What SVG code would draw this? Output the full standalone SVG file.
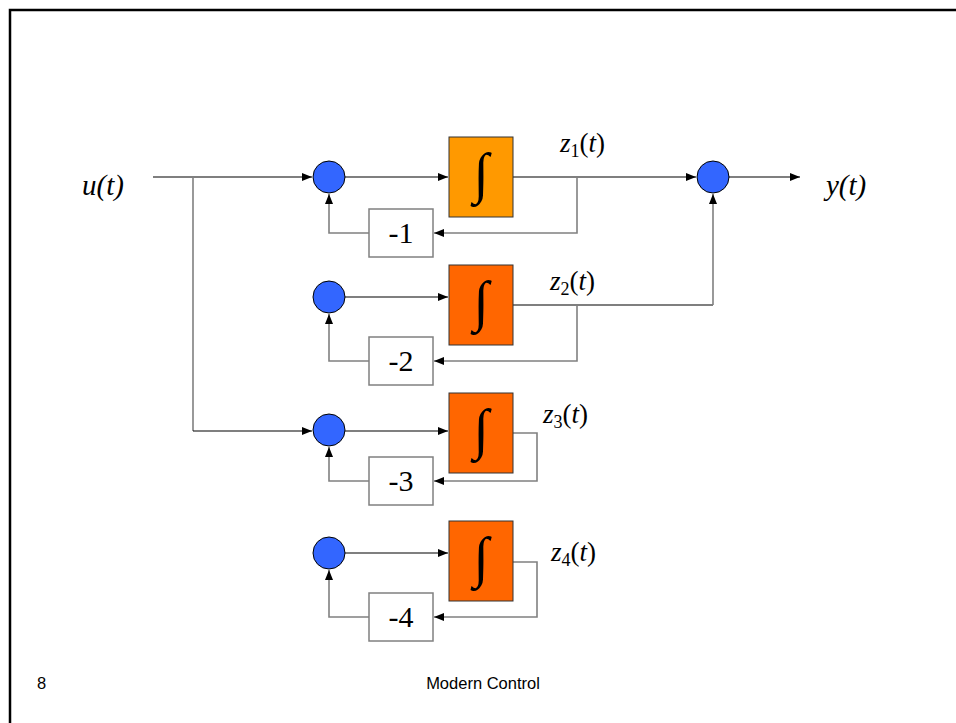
<svg xmlns="http://www.w3.org/2000/svg" width="956" height="723" viewBox="0 0 956 723">
<style>
.sum{fill:#3366FF;stroke:#000;stroke-width:1}
.int1{fill:#FF9900;stroke:#333;stroke-width:1}
.int{fill:#FF6600;stroke:#333;stroke-width:1}
.gain{fill:#fff;stroke:#808080;stroke-width:1.5}
.fw{fill:none;stroke:#000;stroke-width:1.2}
.fb{fill:none;stroke:#808080;stroke-width:1.6}
.serif{font-family:"Liberation Serif","Times New Roman",serif;fill:#000}
.gt{font-family:"Liberation Serif","Times New Roman",serif;font-size:30px;text-anchor:middle;fill:#000}
.ig{font-family:"Liberation Serif","Times New Roman",serif;font-size:56px;text-anchor:middle;fill:#000}
.foot{font-family:"Liberation Sans",Arial,sans-serif;font-size:16.5px;fill:#000}
</style>
<defs>
<marker id="ah" viewBox="0 0 10 8" refX="10" refY="4" markerWidth="10" markerHeight="8" markerUnits="userSpaceOnUse" orient="auto">
<path d="M0,0 L10,4 L0,8 z" fill="#000"/>
</marker>
</defs>
<rect x="0" y="0" width="956" height="723" fill="#fff"/>
<path d="M10,740 V10 H970" fill="none" stroke="#000" stroke-width="2.5"/>

<g id="connectors">
<path class="fw" d="M153,177 H312" marker-end="url(#ah)"/>
<path class="fb" d="M193,177 V431"/>
<path class="fw" d="M193,431 H312" marker-end="url(#ah)"/>
<path class="fw" d="M345,177 H448" marker-end="url(#ah)"/>
<path class="fw" d="M513,177 H696" marker-end="url(#ah)"/>
<path class="fb" d="M577,177 V233 H434" marker-end="url(#ah)"/>
<path class="fb" d="M369,233 H329 V194" marker-end="url(#ah)"/>
<path class="fw" d="M729,177 H800" marker-end="url(#ah)"/>
<path class="fw" d="M345,297 H448" marker-end="url(#ah)"/>
<path class="fw" d="M513,305 H713"/>
<path class="fb" d="M713,305 V194" marker-end="url(#ah)"/>
<path class="fb" d="M577,305 V361 H434" marker-end="url(#ah)"/>
<path class="fb" d="M369,361 H329 V314" marker-end="url(#ah)"/>
<path class="fw" d="M345,431 H448" marker-end="url(#ah)"/>
<path class="fb" d="M513,433 H537 V481 H434" marker-end="url(#ah)"/>
<path class="fb" d="M369,481 H329 V447" marker-end="url(#ah)"/>
<path class="fw" d="M345,553 H448" marker-end="url(#ah)"/>
<path class="fb" d="M513,562 H537 V617 H434" marker-end="url(#ah)"/>
<path class="fb" d="M369,617 H329 V570" marker-end="url(#ah)"/>
</g>

<g id="u">
<text class="serif" x="82" y="195" font-size="29" font-style="italic">u(t)</text>
</g>
<g id="y">
<text class="serif" x="826" y="195" font-size="29" font-style="italic">y(t)</text>
</g>

<g id="sum1"><circle class="sum" cx="329" cy="177" r="16"/></g>
<g id="sum2"><circle class="sum" cx="329" cy="297" r="16"/></g>
<g id="sum3"><circle class="sum" cx="329" cy="430" r="16"/></g>
<g id="sum4"><circle class="sum" cx="329" cy="553" r="16"/></g>
<g id="sumOut"><circle class="sum" cx="713" cy="177" r="16"/></g>

<g id="int1"><rect class="int1" x="449" y="137" width="64" height="80"/><text class="ig" x="481" y="192">∫</text></g>
<g id="int2"><rect class="int" x="449" y="265" width="64" height="80"/><text class="ig" x="481" y="320">∫</text></g>
<g id="int3"><rect class="int" x="449" y="393" width="64" height="80"/><text class="ig" x="481" y="448">∫</text></g>
<g id="int4"><rect class="int" x="449" y="521" width="64" height="80"/><text class="ig" x="481" y="576">∫</text></g>

<g id="gain1"><rect class="gain" x="369" y="209" width="64" height="48"/><text class="gt" x="401" y="243">-1</text></g>
<g id="gain2"><rect class="gain" x="369" y="337" width="64" height="48"/><text class="gt" x="401" y="371">-2</text></g>
<g id="gain3"><rect class="gain" x="369" y="457" width="64" height="48"/><text class="gt" x="401" y="491">-3</text></g>
<g id="gain4"><rect class="gain" x="369" y="593" width="64" height="48"/><text class="gt" x="401" y="627">-4</text></g>

<g id="z1"><text class="serif" x="560" y="152" font-size="27"><tspan font-style="italic">z</tspan><tspan font-size="18" dy="5">1</tspan><tspan dy="-5">(</tspan><tspan font-style="italic">t</tspan><tspan>)</tspan></text></g>
<g id="z2"><text class="serif" x="550" y="290" font-size="27"><tspan font-style="italic">z</tspan><tspan font-size="18" dy="5">2</tspan><tspan dy="-5">(</tspan><tspan font-style="italic">t</tspan><tspan>)</tspan></text></g>
<g id="z3"><text class="serif" x="543" y="423" font-size="27"><tspan font-style="italic">z</tspan><tspan font-size="18" dy="5">3</tspan><tspan dy="-5">(</tspan><tspan font-style="italic">t</tspan><tspan>)</tspan></text></g>
<g id="z4"><text class="serif" x="551" y="561" font-size="27"><tspan font-style="italic">z</tspan><tspan font-size="18" dy="5">4</tspan><tspan dy="-5">(</tspan><tspan font-style="italic">t</tspan><tspan>)</tspan></text></g>

<g id="footer">
<text class="foot" x="37" y="689">8</text>
<text class="foot" x="483" y="689" text-anchor="middle">Modern Control</text>
</g>
</svg>
